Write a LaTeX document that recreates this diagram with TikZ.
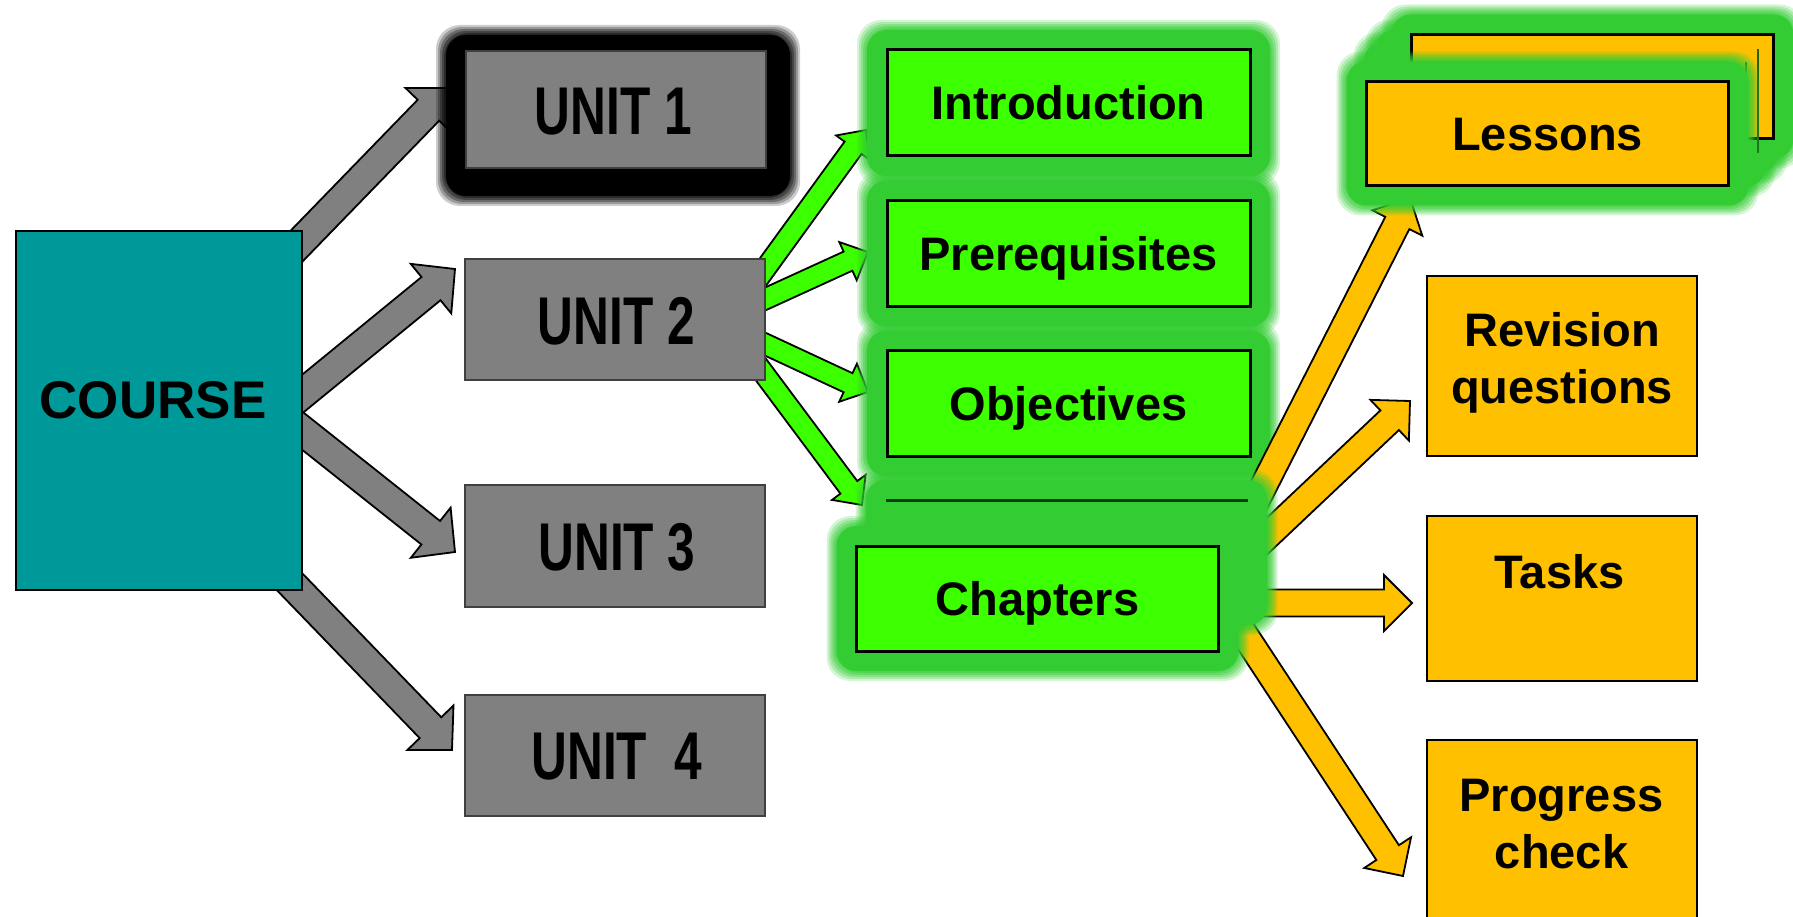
\documentclass[tikz,border=0pt]{standalone}
\usepackage{fontspec}
\setmainfont{Liberation Sans}
\usepackage{graphicx}
\usetikzlibrary{calc}
\definecolor{tealc}{HTML}{009999}
\definecolor{grayc}{HTML}{808080}
\definecolor{limec}{HTML}{3CFF00}
\definecolor{glowc}{HTML}{33CC33}
\definecolor{goldc}{HTML}{FFC000}
\pgfdeclarelayer{arrA}\pgfdeclarelayer{glowA}\pgfdeclarelayer{arrB}\pgfdeclarelayer{glowB}
\pgfsetlayers{arrA,glowA,arrB,glowB,main}

% block arrow: [style]{start}{tip}{shaft half width}{head half width}{head length}
\newcommand\blockarrow[6][]{%
  \coordinate (hb) at ($(#3)!#6!(#2)$);
  \draw[#1] ($(#2)!#4!90:(#3)$) -- ($(hb)!#4!90:(#3)$) -- ($(hb)!#5!90:(#3)$) -- (#3)
     -- ($(hb)!#5!-90:(#3)$) -- ($(hb)!#4!-90:(#3)$) -- ($(#2)!#4!-90:(#3)$) -- cycle;}

% soft glow around a node: {node}{colour}{core extent}
\newcommand\glowaround[3]{%
  \foreach \gx/\go in {10/0.2,8/0.25,6/0.3,4/0.35,2/0.4}{%
    \fill[#2, fill opacity=\go, rounded corners=24pt]
      ([xshift=-#3pt-\gx pt, yshift=#3pt+\gx pt]#1.north west) rectangle
      ([xshift=#3pt+\gx pt, yshift=-#3pt-\gx pt]#1.south east);}
  \fill[#2, rounded corners=20pt]
      ([xshift=-#3pt, yshift=#3pt]#1.north west) rectangle
      ([xshift=#3pt, yshift=-#3pt]#1.south east);}

% tall, narrow unit label
\newcommand\unitlabel[1]{\scalebox{0.8}[1.09]{#1}}

\begin{document}
\begin{tikzpicture}[x=1pt,y=-1pt,
  every node/.style={inner sep=0pt,outer sep=0pt},
  ubox/.style={draw=black!75, line width=1.5pt, fill=grayc, minimum width=300pt},
  utext/.style={font=\fontsize{62pt}{70pt}\selectfont\bfseries},
  gbox/.style={draw=black, line width=3pt, fill=limec, minimum width=363pt, minimum height=106pt,
     text height=34pt, text depth=0pt, font=\fontsize{47pt}{56pt}\selectfont\bfseries},
  ybox/.style={draw=black, line width=2pt, fill=goldc},
  ytext/.style={font=\fontsize{47pt}{57pt}\selectfont\bfseries, align=center},
  grayarrow/.style={draw=black, line width=1.8pt, fill=grayc, line join=miter},
  greenarrow/.style={draw=black, line width=1.8pt, fill=limec, line join=miter},
  goldarrow/.style={draw=black, line width=1.8pt, fill=goldc, line join=miter}]
\useasboundingbox (0,0) rectangle (1793,917);

% ---------- boxes ----------
\node[draw=black, line width=1.5pt, fill=tealc, minimum width=286pt, minimum height=359pt] (course) at (159,410.5) {};
\node[font=\fontsize{53pt}{60pt}\selectfont\bfseries] (courseT) at (153,400) {COURSE};

\node[minimum width=300pt, minimum height=117pt] (unit1g) at (618,115.5) {};
\node[ubox, minimum height=117pt] (unit1) at (616,109.5) {};
\node[ubox, minimum height=121pt] (unit2) at (615,319.5) {};
\node[ubox, minimum height=122pt] (unit3) at (615,546) {};
\node[ubox, minimum height=121pt] (unit4) at (615,755.5) {};

\node[utext] (u1t) at (613.5,112) {\unitlabel{UNIT 1}};
\node[utext] (u2t) at (616.5,321.5) {\unitlabel{UNIT 2}};
\node[utext] (u3t) at (617,547.5) {\unitlabel{UNIT 3}};
\node[utext] (u4t) at (617,757) {\unitlabel{UNIT\ \ 4}};

\node[gbox] (intro) at (1068.5,103) {Introduction};
\node[gbox] (prereq) at (1068.5,253.5) {Prerequisites};
\node[gbox] (obj) at (1068.5,403.5) {Objectives};
\node[minimum width=362pt, minimum height=105pt] (chapB) at (1066.5,552.5) {};
\node[gbox, minimum width=362pt, minimum height=105pt] (chap) at (1037.5,598.5) {Chapters};

\node[minimum width=362pt, minimum height=104pt] (lesB) at (1592.5,86.5) {};
\node[minimum width=362pt, minimum height=104pt] (lesM2) at (1576.5,101.5) {};
\node[minimum width=362pt, minimum height=104pt] (lesM1) at (1564.5,114.5) {};
\node[ybox, line width=3pt, minimum width=362pt, minimum height=104pt, text height=34pt, text depth=0pt,
      font=\fontsize{47pt}{56pt}\selectfont\bfseries] (les) at (1547.5,133.5) {Lessons};

\node[ybox, minimum width=270pt, minimum height=180pt] (rev) at (1562,366) {};
\node[ytext] (revT) at (1562,363) {Revision\\questions};
\node[ybox, minimum width=270pt, minimum height=165pt] (tasks) at (1562,598.5) {};
\node[ytext, anchor=base] (tasksT) at (1559.5,588) {Tasks};
\node[ybox, minimum width=270pt, minimum height=185pt] (prog) at (1562,832.5) {};
\node[ytext] (progT) at (1561.5,824) {Progress\\check};

% ---------- arrow end points ----------
\coordinate (a1s) at (286,257);  \coordinate (a1t) at (450,88);
\coordinate (a2s) at (290,404);  \coordinate (a2t) at (455,269);
\coordinate (a3s) at (290,421);  \coordinate (a3t) at (455,552);
\coordinate (a4s) at (285,577);  \coordinate (a4t) at (452,750);
\coordinate (g1s) at (752,287);  \coordinate (g1t) at (866,130);
\coordinate (g2s) at (752,305);  \coordinate (g2t) at (868,252);
\coordinate (g3s) at (752,338);  \coordinate (g3t) at (868,392);
\coordinate (g4s) at (750,355);  \coordinate (g4t) at (862,505);
\coordinate (y1s) at (1229,554); \coordinate (y1t) at (1410,198);
\coordinate (y2s) at (1229,572); \coordinate (y2t) at (1410,401);
\coordinate (y3s) at (1225,603); \coordinate (y3t) at (1412,603);
\coordinate (y4s) at (1229,611); \coordinate (y4t) at (1403,876);

\begin{pgfonlayer}{arrA}
  \blockarrow[grayarrow]{a1s}{a1t}{15pt}{32pt}{31pt}
  \blockarrow[grayarrow]{a2s}{a2t}{15pt}{32pt}{31pt}
  \blockarrow[grayarrow]{a3s}{a3t}{15pt}{32pt}{31pt}
  \blockarrow[grayarrow]{a4s}{a4t}{15pt}{32pt}{31pt}
  \blockarrow[greenarrow]{g1s}{g1t}{10.5pt}{21pt}{22pt}
  \blockarrow[greenarrow]{g2s}{g2t}{10.5pt}{21pt}{22pt}
  \blockarrow[greenarrow]{g3s}{g3t}{10.5pt}{21pt}{22pt}
  \blockarrow[greenarrow]{g4s}{g4t}{10.5pt}{21pt}{22pt}
\end{pgfonlayer}

\begin{pgfonlayer}{glowA}
  \glowaround{unit1g}{black}{22}
  \glowaround{intro}{glowc}{20}
  \glowaround{prereq}{glowc}{20}
  \glowaround{obj}{glowc}{20}
\end{pgfonlayer}

\begin{pgfonlayer}{arrB}
  \blockarrow[goldarrow]{y1s}{y1t}{13.5pt}{28pt}{28pt}
  \blockarrow[goldarrow]{y2s}{y2t}{13.5pt}{28pt}{28pt}
  \blockarrow[goldarrow]{y3s}{y3t}{13.5pt}{28pt}{28pt}
  \blockarrow[goldarrow]{y4s}{y4t}{13.5pt}{28pt}{28pt}
\end{pgfonlayer}

\begin{pgfonlayer}{glowB}
  \glowaround{chapB}{glowc}{20}
  \fill[glowc] (chapB.north west) rectangle (chapB.south east);
  \draw[black!70!glowc, line width=3pt] (chapB.north west) -- (chapB.north east);
  \glowaround{chap}{glowc}{20}
  \glowaround{lesB}{glowc}{20}
  \glowaround{lesM2}{glowc}{20}
  \glowaround{lesM1}{glowc}{20}
  \draw[black, line width=2.5pt, fill=goldc] (lesB.north west) rectangle (lesB.south east);
  \draw[black!50!glowc, line width=2pt] (lesM2.north east) -- (lesM2.south east);
  \draw[black!50!glowc, line width=2pt] (lesM1.north east) -- (lesM1.south east);
  \glowaround{les}{glowc}{20}
\end{pgfonlayer}
\end{tikzpicture}
\end{document}
